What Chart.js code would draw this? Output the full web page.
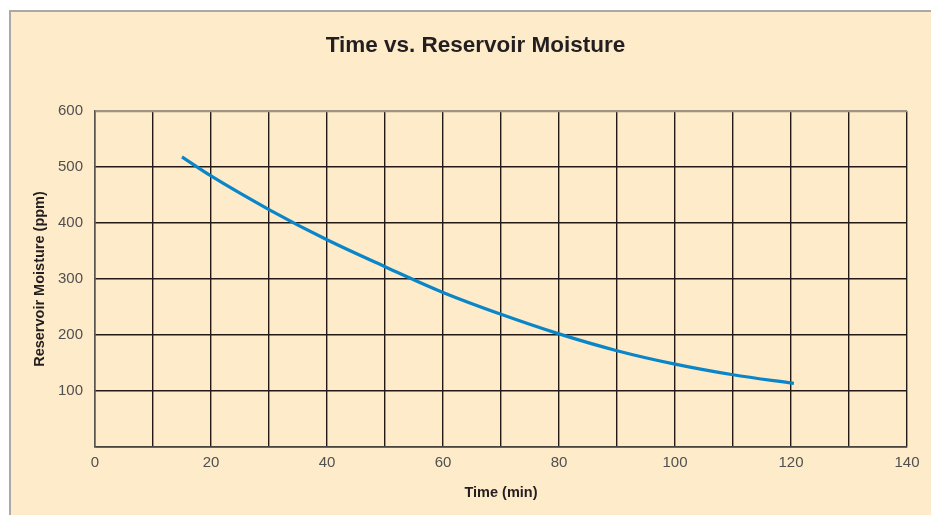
<!DOCTYPE html>
<html>
<head>
<meta charset="utf-8">
<script src="https://cdn.jsdelivr.net/npm/chart.js@4"></script>
<style>
  html, body { margin: 0; padding: 0; background: #ffffff; }
  body { width: 931px; height: 515px; position: relative; overflow: hidden; }
  #frame { position: absolute; left: 9px; top: 10px; width: 930px; height: 510px;
           background: #FDEBC9; border-left: 2px solid #a9a9a9; border-top: 2px solid #a9a9a9; }
  #wrap { position: absolute; left: 0; top: 0; width: 931px; height: 515px; }
</style>
</head>
<body>
<div id="frame"></div>
<div id="wrap"><canvas id="c" width="931" height="515"></canvas></div>
<script>
const timeMin = [15, 20, 30, 40, 50, 60, 70, 80, 90, 100, 110, 120.5];
const moisturePpm = [518, 484, 424, 370, 322, 276, 237, 202, 172, 148, 129, 113.5];
const xTickStep = 10;
const xLabelStep = 20;
const yTickStep = 100;

const FONT = "'Liberation Sans', Arial, Helvetica, sans-serif";

new Chart(document.getElementById('c'), {
  type: 'line',
  data: {
    datasets: [{
      data: timeMin.map((x, i) => ({ x: x, y: moisturePpm[i] })),
      borderColor: '#0a86c8',
      borderWidth: 3.2,
      pointRadius: 0,
      fill: false,
      cubicInterpolationMode: 'monotone',
      borderCapStyle: 'butt'
    }]
  },
  options: {
    responsive: false,
    animation: false,
    devicePixelRatio: 1,
    layout: { padding: { left: 20, right: 0, top: 0, bottom: 0 } },
    plugins: {
      legend: { display: false },
      tooltip: { enabled: false },
      title: {
        display: true,
        text: 'Time vs. Reservoir Moisture',
        color: '#231f20',
        font: { family: FONT, size: 22.5, weight: 'bold' },
        padding: { top: 32.5, bottom: 51.5 }
      }
    },
    scales: {
      x: {
        type: 'linear',
        min: 0, max: 140,
        afterFit: s => { s.height = 68; s.paddingRight = 24; },
        ticks: {
          stepSize: xTickStep,
          autoSkip: false,
          maxRotation: 0,
          padding: 6.5,
          color: '#505050',
          font: { family: FONT, size: 15 },
          callback: v => (v % xLabelStep === 0 ? String(v) : '')
        },
        grid: {
          drawTicks: false,
          color: '#231a15',
          lineWidth: 1.4
        },
        border: { color: '#4a4540', width: 1.6 },
        title: {
          display: true,
          text: 'Time (min)',
          color: '#231f20',
          font: { family: FONT, size: 14.5, weight: 'bold' },
          padding: { top: 13.3, bottom: 13.3 }
        }
      },
      y: {
        min: 0, max: 600,
        afterFit: s => { s.width = 75; },
        ticks: {
          stepSize: yTickStep,
          padding: 12,
          color: '#505050',
          font: { family: FONT, size: 15 },
          callback: v => (v === 0 ? '' : String(v))
        },
        grid: {
          drawTicks: false,
          color: ctx => (ctx.tick && ctx.tick.value === 600 ? '#9e9384' : '#231a15'),
          lineWidth: ctx => (ctx.tick && ctx.tick.value === 600 ? 2.2 : 1.4)
        },
        border: { color: '#5a5550', width: 1.4 },
        title: {
          display: true,
          text: 'Reservoir Moisture (ppm)',
          color: '#231f20',
          font: { family: FONT, size: 14.5, weight: 'bold' },
          padding: { top: 11.3, bottom: 11.3 }
        }
      }
    }
  }
});
</script>
</body>
</html>
